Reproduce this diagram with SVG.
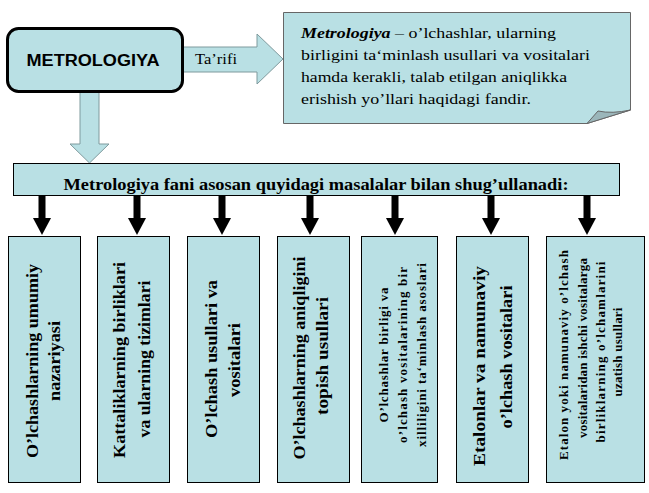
<svg xmlns="http://www.w3.org/2000/svg" width="649" height="493" viewBox="0 0 649 493">
<style>
.box{fill:#b9e0e4;stroke:#000;stroke-width:1}
.fat{fill:#b9e0e4;stroke:#7f9a9d;stroke-width:1}
</style>
<rect width="649" height="493" fill="#fff"/>
<g font-family="Liberation Serif, Times New Roman, Tinos, DejaVu Serif, serif" fill="#000">
<g id="connectors">
<polygon class="fat" points="183,47 257,47 257,34 283,59 257,84 257,72 183,72"/>
<text x="195" y="64" font-size="14" textLength="42" lengthAdjust="spacingAndGlyphs">Ta’rifi</text>
<polygon class="fat" points="80,92 99,92 99,144 109,144 89.5,163 70,144 80,144"/>
<g>
<rect x="38.5" y="196" width="7" height="22"/><polygon points="33,218 51,218 42,235"/>
<rect x="133.5" y="196" width="7" height="22"/><polygon points="128,218 146,218 137,235"/>
<rect x="218.5" y="196" width="7" height="22"/><polygon points="213,218 231,218 222,235"/>
<rect x="306.5" y="196" width="7" height="22"/><polygon points="301,218 319,218 310,235"/>
<rect x="391.5" y="196" width="7" height="22"/><polygon points="386,218 404,218 395,235"/>
<rect x="487.5" y="196" width="7" height="22"/><polygon points="482,218 500,218 491,235"/>
<rect x="583.5" y="196" width="7" height="22"/><polygon points="578,218 596,218 587,235"/>
</g>
</g>
<g id="metrologiya">
<rect x="7.5" y="28.5" width="175" height="63" rx="11" fill="#b9e0e4" stroke="#000" stroke-width="3"/>
<text x="93" y="66" font-family="Liberation Sans, Arial, sans-serif" font-weight="bold" font-size="16" text-anchor="middle" textLength="133" lengthAdjust="spacingAndGlyphs">METROLOGIYA</text>
</g>
<g id="definition">
<path d="M283.5,12.5 H630.5 V110 L587,123.5 H283.5 Z" fill="#b9e0e4" stroke="#666" stroke-width="1"/>
<path d="M587,123.5 L598,111 Q612,114 630.5,110 Z" fill="#9bb6ba" stroke="#666" stroke-width="1"/>
<text x="301" y="38" font-size="15" textLength="255" lengthAdjust="spacingAndGlyphs"><tspan font-weight="bold" font-style="italic">Metrologiya</tspan> – o’lchashlar, ularning</text>
<text x="301" y="60" font-size="15" textLength="289" lengthAdjust="spacingAndGlyphs">birligini ta‘minlash usullari va vositalari</text>
<text x="301" y="82" font-size="15" textLength="266" lengthAdjust="spacingAndGlyphs">hamda kerakli, talab etilgan aniqlikka</text>
<text x="301" y="104" font-size="15" textLength="230" lengthAdjust="spacingAndGlyphs">erishish yo’llari haqidagi fandir.</text>
</g>
<g id="banner">
<rect x="13.5" y="163.5" width="606" height="32" class="box"/>
<text x="316" y="190" font-size="17" font-weight="bold" text-anchor="middle" textLength="505" lengthAdjust="spacingAndGlyphs">Metrologiya fani asosan quyidagi masalalar bilan shug’ullanadi:</text>
</g>
<g font-weight="bold" text-anchor="middle">
<g id="task1">
<rect x="8.5" y="236.5" width="72" height="246" class="box"/>
<text font-size="16" transform="translate(38,361) rotate(-90)" textLength="194" lengthAdjust="spacingAndGlyphs">O’lchashlarning umumiy</text>
<text font-size="16" transform="translate(60,361) rotate(-90)" textLength="80" lengthAdjust="spacingAndGlyphs">nazariyasi</text>
</g>
<g id="task2">
<rect x="97.5" y="236.5" width="72" height="246" class="box"/>
<text font-size="16" transform="translate(125,360) rotate(-90)" textLength="196" lengthAdjust="spacingAndGlyphs">Kattaliklarning birliklari</text>
<text font-size="16" transform="translate(150,359) rotate(-90)" textLength="157" lengthAdjust="spacingAndGlyphs">va ularning tizimlari</text>
</g>
<g id="task3">
<rect x="187.5" y="236.5" width="72" height="246" class="box"/>
<text font-size="16" transform="translate(217,359) rotate(-90)" textLength="158" lengthAdjust="spacingAndGlyphs">O’lchash usullari va</text>
<text font-size="16" transform="translate(240,360) rotate(-90)" textLength="74" lengthAdjust="spacingAndGlyphs">vositalari</text>
</g>
<g id="task4">
<rect x="277.5" y="236.5" width="72" height="246" class="box"/>
<text font-size="16" transform="translate(305,358) rotate(-90)" textLength="203" lengthAdjust="spacingAndGlyphs">O’lchashlarning aniqligini</text>
<text font-size="16" transform="translate(328,356) rotate(-90)" textLength="118" lengthAdjust="spacingAndGlyphs">topish usullari</text>
</g>
<g id="task5">
<rect x="361.5" y="236.5" width="76" height="246" class="box"/>
<text font-size="13" transform="translate(388,355) rotate(-90)" textLength="135" lengthAdjust="spacing">O’lchashlar birligi va</text>
<text font-size="13" transform="translate(407,355) rotate(-90)" textLength="176" lengthAdjust="spacing">o’lchash vositalarining bir</text>
<text font-size="13" transform="translate(426,355) rotate(-90)" textLength="184" lengthAdjust="spacing">xilliligini ta‘minlash asoslari</text>
</g>
<g id="task6">
<rect x="456.5" y="236.5" width="72" height="246" class="box"/>
<text font-size="16" transform="translate(485,366) rotate(-90)" textLength="200" lengthAdjust="spacingAndGlyphs">Etalonlar va namunaviy</text>
<text font-size="16" transform="translate(512,357) rotate(-90)" textLength="143" lengthAdjust="spacingAndGlyphs">o’lchash vositalari</text>
</g>
<g id="task7">
<rect x="546.5" y="236.5" width="98" height="246" class="box"/>
<text font-size="13" transform="translate(568,355) rotate(-90)" textLength="210" lengthAdjust="spacing">Etalon yoki namunaviy o’lchash</text>
<text font-size="13" transform="translate(587,348) rotate(-90)" textLength="180" lengthAdjust="spacing">vositalaridan ishchi vositalarga</text>
<text font-size="13" transform="translate(605,352) rotate(-90)" textLength="181" lengthAdjust="spacing">birliklarning o’lchamlarini</text>
<text font-size="13" transform="translate(622,352) rotate(-90)" textLength="89" lengthAdjust="spacing">uzatish usullari</text>
</g>
</g>
</g>
</svg>
